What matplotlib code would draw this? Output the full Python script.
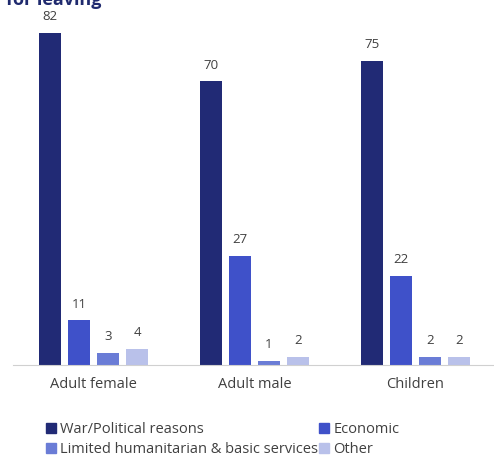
import numpy as np
import matplotlib
matplotlib.use('Agg')
from matplotlib import pyplot as plt
from matplotlib.patches import Patch

plt.rcParams['font.family'] = ['Open Sans', 'DejaVu Sans']

# data
groups = ['Adult female', 'Adult male', 'Children']
series = ['War/Political reasons', 'Economic',
          'Limited humanitarian & basic services', 'Other']
war = [82, 70, 75]
economic = [11, 27, 22]
limited = [3, 1, 2]
other = [4, 2, 2]
colors = ['#212a75', '#3f51c9', '#6a7cd6', '#b9c1ea']

text_col = '#404040'

fig = plt.figure(figsize=(4.94, 4.62), dpi=100)
ax = fig.add_axes([13 / 494, 97 / 462, 483 / 494, 365 / 462])

x = np.arange(len(groups))
step = 0.18
width = 0.137
values = [war, economic, limited, other]
for i, (vals, name) in enumerate(zip(values, series)):
    bars = ax.bar(x + (i - 1.5) * step, vals, width, color=colors[i], label=name)
    for b, v in zip(bars, vals):
        ax.annotate(str(v), (b.get_x() + b.get_width() / 2, v),
                    xytext=(0, 7), textcoords='offset points',
                    ha='center', va='bottom', fontsize=9.5, color=text_col)

ax.set_xlim(-0.5, 2.5)
ax.set_ylim(0, 90.1)
ax.set_yticks([])
ax.set_xticks(x)
ax.set_xticklabels(groups, fontsize=10.5, color=text_col)
ax.tick_params(axis='x', length=0, pad=9)
for s in ['top', 'right', 'left']:
    ax.spines[s].set_visible(False)
ax.spines['bottom'].set_color('#d0d0d0')

# title, cut off at the top like the source image
fig.text(6 / 494, 1 - 5 / 462, 'for leaving', fontsize=13, fontweight='bold',
         color='#1f2a6e', ha='left', va='baseline')

# legend filled row by row
order = [0, 2, 1, 3]
handles = [Patch(color=colors[k]) for k in order]
labels = [series[k] for k in order]
fig.legend(handles, labels, ncol=2, loc='upper left',
           bbox_to_anchor=(33 / 494, 1 - 409 / 462), frameon=False,
           fontsize=10.5, labelcolor=text_col, handlelength=0.65, handleheight=0.65,
           handletextpad=0.3, columnspacing=0.1, labelspacing=0.35)

fig.savefig('out.png', dpi=100)
